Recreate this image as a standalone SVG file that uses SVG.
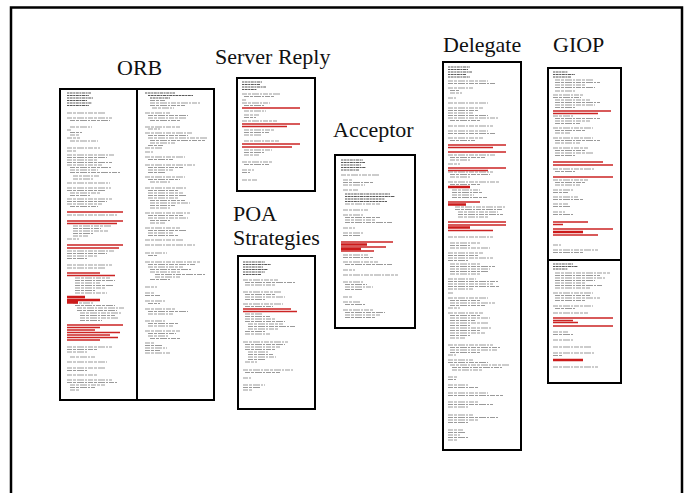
<svg xmlns="http://www.w3.org/2000/svg" width="688" height="493" viewBox="0 0 688 493">
<style>
.bg{fill:#fff}
.frame{fill:none;stroke:#000;stroke-width:2.5}
.box{fill:#fff;stroke:#000;stroke-width:2}
.div{stroke:#000;stroke-width:2}
.lbl{font-family:"Liberation Serif","Times New Roman",serif;font-size:22px;fill:#111}
.t{fill:none;stroke:#9a9a9a;stroke-width:1.1;stroke-dasharray:5 1 3 1 7 1 2 1}
.d{fill:none;stroke:#5a5a5a;stroke-width:1.2;stroke-dasharray:2 .6 3 .6}
.r{fill:none;stroke:#cc2424;stroke-width:1.4}
.R{fill:none;stroke:#cc1a1a;stroke-width:2.6}
</style>
<rect class="bg" x="0" y="0" width="688" height="493"/>
<path class="frame" d="M11 493V7.5H682V493"/>

<g id="orb">
<text class="lbl" x="117" y="75">ORB</text>
<rect class="box" x="60" y="89" width="154" height="311"/>
<line class="div" x1="137" y1="89" x2="137" y2="400"/>
<path class="d" d="M67 93h24M67 95.5h22M67 98h26M67 100.5h20M67 103h25M67 105.5h22"/>
<path class="t" d="M67 113h38M67 118h45M70 120.5h40M70 127h22M67 130h4M70 132.5h12M70 135h10M67 138h13M70 141h28M67 148h33M67 151h10M67 155h48M67 157.5h40M67 160h30M67 162.5h45M67 165h35M70 167.5h42M70 170h28M70 172.5h50M73 176h27M73 179h20M67 183h43M67 188h44M67 190.5h38M70 193h30M70 195.5h20M67 199h45M67 201.5h40M67 204h35M70 206.5h28M67 215h50M73 226h38M73 228.5h28M73 231h35M73 233.5h20M73 236h15M67 239h12M67 251h48M67 253.5h40M67 256h30M67 258.5h20M67 265h45M67 268h38M75 278h35M75 280.5h40M75 283h25M75 285.5h38M75 288h30M75 290.5h20M75 293h32M73 303h20M75 305.5h40M77 308h48M77 310.5h40M80 313h42M80 315.5h35M80 318h38M80 320.5h22M67 347h45M67 349.5h30M67 352h20M70 357h25M67 362h40M67 368h38M67 370.5h20M67 375h30M67 380h45M67 382.5h50M70 385h35M70 387.5h25M70 390h10"/>
<path class="r" d="M67 212h56M67 221h56M67 223.5h50M67 245h56M67 248h52M67 273h33M67 275.5h48M67 325h56M67 327.5h33M67 330h28M67 332.5h53M67 335h43M67 337.5h51M67 340h33"/>
<path class="R" d="M67 297h18M67 300h33M67 302.5h11"/>
<path class="d" d="M145 93h30M148 95.5h45M150 98h20"/>
<path class="t" d="M150 100.5h15M150 103h50M150 105.5h35M152 108h22M145 113h25M148 115.5h40M148 118h38M150 120.5h30M145 127h35M148 129h12M145 133h48M148 135.5h40M148 138h60M150 140.5h55M150 143h25M148 145.5h15M145 148h18M145 152h8M145 157h40M148 159.5h25M145 165h50M148 167.5h35M148 170h25M148 172.5h18M145 177h40M148 179.5h32M150 182h20M145 188h42M148 190.5h30M148 193h35M148 195.5h38M148 198h30M150 200.5h35M150 203h40M150 205.5h25M150 208h20M145 213h45M148 215.5h35M148 218h40M150 220.5h20M150 223h15M145 228h35M148 230.5h38M148 233h25M148 235.5h30M145 240h38M145 245h50M145 253h22M148 255.5h10M145 262h55M148 264.5h48M148 267h35M150 269.5h42M150 272h30M155 274.5h50M155 277h25M150 279.5h20M145 287h12M145 293h10M145 295.5h15M145 301h20M148 303.5h12M145 309h30M148 311.5h40M148 314h25M145 321h20M148 323.5h30M148 326h25M145 331h35M148 333.5h28M148 336h20M150 338.5h30M145 343h10M145 345.5h18M145 348h22M145 350.5h15M145 353h25"/>
</g>

<g id="server-reply">
<text class="lbl" x="215" y="64">Server Reply</text>
<rect class="box" x="237" y="78" width="78" height="113"/>
<path class="d" d="M242 82h20M242 84.5h18M242 87h24M242 89.5h15"/>
<path class="t" d="M242 94h38M244 96.5h30M242 100h4M242 103h28M244 105.5h20M244 111h22M244 115h15M244 117.5h12M242 121h35M244 130h30M244 132.5h25M244 135h18M244 141h35M244 150h28M244 152.5h20M244 155h15M242 162h30M244 164.5h25M242 170h12M242 172.5h8M242 180h15"/>
<path class="r" d="M242 108h58M242 124h58M242 126.5h45M242 144h58M242 147h50"/>
</g>

<g id="poa-strategies">
<text class="lbl" x="233" y="221">POA</text>
<text class="lbl" x="233" y="245">Strategies</text>
<rect class="box" x="238" y="256" width="77" height="153"/>
<path class="d" d="M243 262h22M243 264.5h28M243 267h20M243 269.5h25M243 272h22M243 274.5h18"/>
<path class="t" d="M243 280h35M245 282.5h50M245 285h30M243 292h38M245 294.5h30M245 297h40M245 299.5h20M243 304h40M245 306.5h28M245 314h18M245 316.5h25M245 319h30M245 321.5h40M248 324h35M248 326.5h48M248 329h30M245 331.5h20M245 334h25M243 342h45M245 344.5h40M245 347h35M245 349.5h30M248 352h20M248 354.5h25M248 357h28M248 359.5h18M245 362h12M243 370h50M245 372.5h35M243 378h8M243 385h22M243 387.5h18M243 390h10"/>
<path class="r" d="M243 309h48M243 311.5h54"/>
</g>

<g id="acceptor">
<text class="lbl" x="333" y="137">Acceptor</text>
<rect class="box" x="335" y="155" width="80" height="173"/>
<path class="d" d="M341 160h22M341 162.5h24M341 165h20M341 167.5h25M341 170h18M345 194h45M345 196.5h50M345 199h40M345 201.5h42"/>
<path class="t" d="M341 175h38M343 180h10M343 182.5h30M343 185h22M343 190h15M345 204h35M343 210h25M343 215h20M345 217.5h35M345 220h30M345 222.5h48M343 228h12M343 233h20M343 235.5h18M343 255h25M343 257.5h30M343 262h35M345 264.5h48M343 270h12M343 275h55M343 282h20M345 284.5h22M345 287h28M345 289.5h18M343 297h10M343 302h18M345 304.5h20M343 310h30M345 312.5h40M345 315h35M345 317.5h30"/>
<path class="r" d="M341 242h52M341 247h45M341 251h33"/>
<path class="R" d="M341 244.5h26M341 249h20"/>
</g>

<g id="delegate">
<text class="lbl" x="443" y="52">Delegate</text>
<rect class="box" x="443" y="62" width="78" height="388"/>
<path class="d" d="M448 67h22M448 69.5h20M448 72h24M448 74.5h18M448 77h22"/>
<path class="t" d="M448 81h40M448 83.5h48M448 88h25M450 90.5h10M450 93h12M448 98h8M448 103h40M448 108h35M448 110.5h30M448 113h25M448 115.5h40M448 118h50M450 120.5h30M448 126h45M448 131h40M448 133.5h48M448 138h35M450 140.5h25M448 155h48M450 157.5h35M450 160h20M448 164h12M448 172h45M450 174.5h40M450 177h20M448 182h52M450 184.5h30M452 190h28M452 192.5h30M452 195h22M452 197.5h35M455 207h50M455 209.5h48M458 212h40M458 214.5h45M458 217h30M448 237h45M450 243h30M450 245.5h20M450 248h40M448 253h35M448 255.5h30M448 258h45M448 260.5h20M450 264h30M450 266.5h45M450 269h40M450 271.5h38M450 274h30M448 279h28M448 281.5h50M448 284h45M448 286.5h52M448 289h25M448 293h6M448 298h40M450 300.5h30M450 303h45M450 305.5h35M448 308h12M448 313h35M450 315.5h30M450 318h40M450 320.5h25M450 323h38M450 325.5h20M450 328h42M450 330.5h30M450 333h35M450 335.5h20M450 338h15M448 345h45M450 347.5h50M450 350h48M450 352.5h30M448 355h8M448 360h25M448 362.5h40M450 365h60M452 367.5h50M452 370h30M448 377h10M448 379.5h8M448 385h20M448 387.5h30M448 393h40M448 395.5h55M448 402h30M448 404.5h45M448 407h20M448 415h25M448 417.5h50M448 420h30M448 422.5h20M448 430h15M448 432.5h18M448 435h12M448 437.5h20M448 440h10"/>
<path class="r" d="M448 145h58M448 147.5h45M448 152h58M448 168h58M448 170.5h40M448 202h32M448 222h58M448 225h58M448 230.5h45"/>
<path class="R" d="M448 187h22M448 204.5h18M448 227.5h22"/>
</g>

<g id="giop">
<text class="lbl" x="553" y="52">GIOP</text>
<rect class="box" x="548" y="68" width="73" height="315"/>
<line class="div" x1="548" y1="260" x2="621" y2="260"/>
<path class="d" d="M553 72h15M553 74.5h22M553 77h18M553 264h20M553 266.5h25M553 269h15"/>
<path class="t" d="M555 80h38M555 82.5h45M555 85h30M555 87.5h40M555 91h20M553 95h30M553 97.5h28M555 100h35M555 102.5h45M555 105h40M555 107.5h20M553 116h20M555 118.5h45M555 121h35M555 123.5h25M553 128h40M555 130.5h30M555 133h15M553 138h40M555 140.5h45M555 143h25M553 148h35M555 150.5h30M555 153h38M555 155.5h20M553 169h42M555 171.5h20M553 180h35M555 182.5h30M555 185h25M553 190h20M553 192.5h15M553 197h25M553 199.5h30M553 204h15M553 206.5h18M553 212h12M553 214.5h20M553 245h8M553 250h45M553 252.5h30M555 273h55M555 275.5h45M555 278h50M555 280.5h40M555 283h30M555 285.5h48M555 288h35M553 293h40M555 295.5h35M555 298h45M555 300.5h30M553 306h40M555 308.5h20M553 313h35M553 332h15M553 334.5h20M553 340h20M553 347h38M553 353h42M553 355.5h10M553 367h45"/>
<path class="r" d="M553 111h58M553 113.5h45M553 162h50M553 165h60M553 177h60M553 222h35M553 224.5h10M553 229h60M553 235h45M553 318h60M553 320.5h20M553 322.5h25M553 326h60"/>
<path class="R" d="M553 232h30M553 360h30"/>
</g>
</svg>
